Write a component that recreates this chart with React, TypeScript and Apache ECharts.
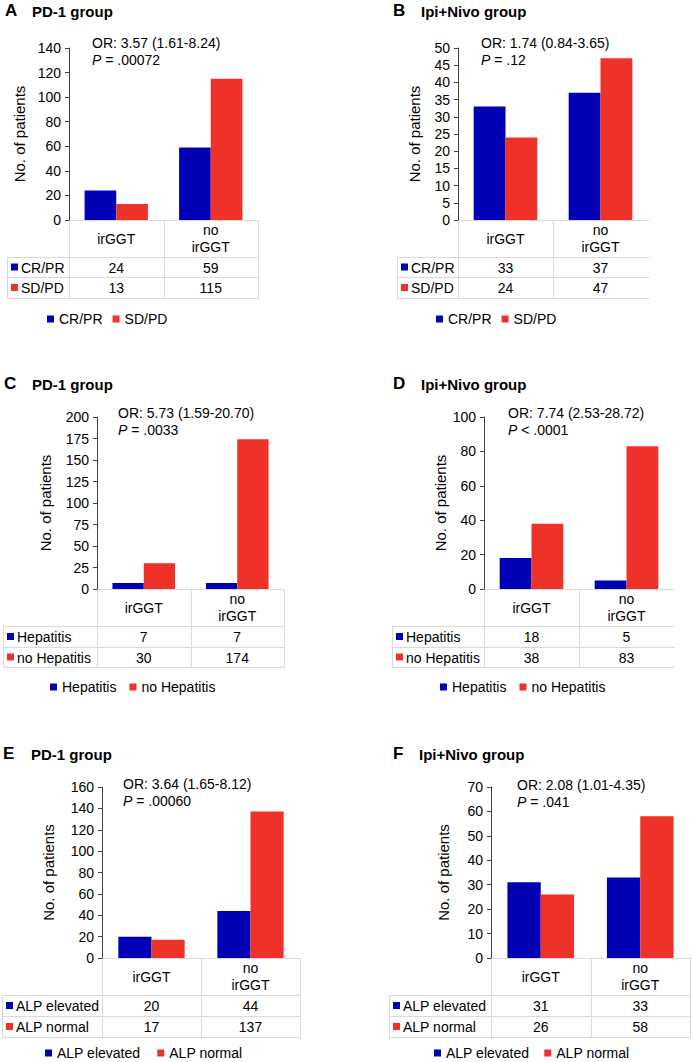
import { useEffect, useRef } from 'react';
import * as echarts from 'echarts';

const FONT = '"Liberation Sans", Arial, Helvetica, sans-serif';
const BLUE = '#0000B4';
const RED = '#EE3229';
const GRID_GRAY = '#D9D9D9';
const AXIS_COLOR = '#404040';
const FS = 14;

const categories = ['irGGT', 'no\nirGGT'];

const panelLetters = ['A', 'B', 'C', 'D', 'E', 'F'];
const panelTitles = ['PD-1 group', 'Ipi+Nivo group', 'PD-1 group', 'Ipi+Nivo group', 'PD-1 group', 'Ipi+Nivo group'];

const responseNames = ['CR/PR', 'SD/PD'];
const hepatitisNames = ['Hepatitis', 'no Hepatitis'];
const alpNames = ['ALP elevated', 'ALP normal'];

const aCrPr = [24, 59];
const aSdPd = [13, 115];
const bCrPr = [33, 37];
const bSdPd = [24, 47];
const cHepatitis = [7, 7];
const cNoHepatitis = [30, 174];
const dHepatitis = [18, 5];
const dNoHepatitis = [38, 83];
const eAlpElevated = [20, 44];
const eAlpNormal = [17, 137];
const fAlpElevated = [31, 33];
const fAlpNormal = [26, 58];

const orTexts = [
  'OR: 3.57 (1.61-8.24)',
  'OR: 1.74 (0.84-3.65)',
  'OR: 5.73 (1.59-20.70)',
  'OR: 7.74 (2.53-28.72)',
  'OR: 3.64 (1.65-8.12)',
  'OR: 2.08 (1.01-4.35)',
];
const pTexts = ['= .00072', '= .12', '= .0033', '< .0001', '= .00060', '= .041'];

const yMaxes = [140, 50, 200, 100, 160, 70];
const yIntervals = [20, 5, 25, 20, 20, 10];
const yAxisTitle = 'No. of patients';

const seriesNames = [responseNames, responseNames, hepatitisNames, hepatitisNames, alpNames, alpNames];
const firstValues = [aCrPr, bCrPr, cHepatitis, dHepatitis, eAlpElevated, fAlpElevated];
const secondValues = [aSdPd, bSdPd, cNoHepatitis, dNoHepatitis, eAlpNormal, fAlpNormal];

// layout (pixel positions only)
const layouts = [
  { ax: 69, right: 258, top: 48, bottom: 220, rows: [257, 277, 298], tableLeft: 7, legendX: 47, legendY: 320, legendGap: 10, nameGap: 42, orX: 92, orY: 43, letterX: 5, titleX: 32, titleY: 10, rightBorder: true },
  { ax: 458, right: 648, top: 48, bottom: 220, rows: [257, 277, 298], tableLeft: 397, legendX: 436, legendY: 320, legendGap: 10, nameGap: 36, orX: 481, orY: 43, letterX: 393, titleX: 421, titleY: 10, rightBorder: false },
  { ax: 97, right: 284, top: 417, bottom: 589, rows: [626, 647, 667], tableLeft: 3, legendX: 50, legendY: 688, legendGap: 13, nameGap: 44, orX: 118, orY: 413, letterX: 4, titleX: 32, titleY: 383, rightBorder: true },
  { ax: 484, right: 674, top: 417, bottom: 589, rows: [626, 647, 667], tableLeft: 392, legendX: 440, legendY: 688, legendGap: 13, nameGap: 36, orX: 508, orY: 413, letterX: 393, titleX: 421, titleY: 383, rightBorder: false },
  { ax: 102, right: 300, top: 787, bottom: 958, rows: [995, 1016, 1037], tableLeft: 2, legendX: 45, legendY: 1054, legendGap: 17, nameGap: 46, orX: 123, orY: 784, letterX: 3, titleX: 31, titleY: 753, rightBorder: true },
  { ax: 491, right: 690, top: 787, bottom: 958, rows: [995, 1016, 1037], tableLeft: 389, legendX: 434, legendY: 1054, legendGap: 15, nameGap: 40, orX: 517, orY: 785, letterX: 393, titleX: 419, titleY: 753, rightBorder: true },
];

function hLine(x1: number, x2: number, y: number) {
  return { type: 'line', silent: true, shape: { x1, y1: y + 0.5, x2, y2: y + 0.5 }, style: { stroke: GRID_GRAY, lineWidth: 1 } };
}
function vLine(x: number, y1: number, y2: number) {
  return { type: 'line', silent: true, shape: { x1: x + 0.5, y1, x2: x + 0.5, y2 }, style: { stroke: GRID_GRAY, lineWidth: 1 } };
}
function txt(x: number, y: number, text: string, extra: any = {}) {
  return {
    type: 'text',
    silent: true,
    x,
    y,
    style: { text, fill: '#000', fontSize: FS, fontFamily: FONT, align: 'left', verticalAlign: 'middle', ...extra },
  };
}

function buildOption() {
  const grid: any[] = [];
  const xAxis: any[] = [];
  const yAxis: any[] = [];
  const series: any[] = [];
  const legend: any[] = [];
  const graphic: any[] = [];

  layouts.forEach((L, i) => {
    grid.push({ left: L.ax, top: L.top, width: L.right - L.ax, height: L.bottom - L.top, outerBoundsMode: 'none', containLabel: false });
    const headerH = L.rows[0] - L.bottom;
    xAxis.push({
      type: 'category',
      gridIndex: i,
      data: categories,
      axisLine: { show: false },
      axisTick: { show: false },
      axisLabel: { margin: headerH / 2, verticalAlign: 'middle', lineHeight: 17, fontSize: FS, fontFamily: FONT, color: '#000', interval: 0 },
    });
    yAxis.push({
      type: 'value',
      gridIndex: i,
      min: 0,
      max: yMaxes[i],
      interval: yIntervals[i],
      name: yAxisTitle,
      nameLocation: 'middle',
      nameRotate: 90,
      nameGap: L.nameGap,
      nameTextStyle: { fontSize: 15, fontFamily: FONT, color: '#000' },
      axisLine: { show: true, lineStyle: { color: AXIS_COLOR, width: 1 } },
      axisTick: { show: true, length: 4, lineStyle: { color: AXIS_COLOR } },
      splitLine: { show: false },
      axisLabel: { margin: 8, fontSize: FS, fontFamily: FONT, color: '#000' },
    });
    const names = seriesNames[i];
    const vals = [firstValues[i], secondValues[i]];
    const colors = [BLUE, RED];
    names.forEach((nm, k) => {
      series.push({
        type: 'bar',
        name: nm,
        xAxisIndex: i,
        yAxisIndex: i,
        data: vals[k],
        barGap: '0%',
        barCategoryGap: '33%',
        itemStyle: { color: colors[k] },
        emphasis: { disabled: true },
      });
    });
    legend.push({
      data: names,
      left: L.legendX,
      top: L.legendY - 8,
      padding: 0,
      orient: 'horizontal',
      icon: 'rect',
      itemWidth: 7,
      itemHeight: 7,
      itemGap: L.legendGap,
      selectedMode: false,
      textStyle: { fontSize: FS, fontFamily: FONT, color: '#000' },
    });

    // titles
    graphic.push(txt(L.letterX, L.titleY, panelLetters[i], { fontSize: 17, fontWeight: 'bold' }));
    graphic.push(txt(L.titleX, L.titleY + 1, panelTitles[i], { fontSize: 15, fontWeight: 'bold' }));
    // OR / P annotation
    graphic.push(txt(L.orX, L.orY, orTexts[i]));
    graphic.push(
      txt(L.orX, L.orY + 17, '{i|P} ' + pTexts[i], {
        rich: { i: { fontStyle: 'italic', fontSize: FS, fontFamily: FONT, fill: '#000' } },
      })
    );

    // data table
    const [r1, r2, r3] = L.rows;
    graphic.push(hLine(L.ax, L.right + 1, L.bottom));
    graphic.push(hLine(L.tableLeft, L.right + 1, r1));
    graphic.push(hLine(L.tableLeft, L.right + 1, r2));
    graphic.push(hLine(L.tableLeft, L.right + 1, r3));
    graphic.push(vLine(L.tableLeft, r1, r3 + 1));
    graphic.push(vLine(L.ax, L.bottom, r3 + 1));
    const colW = (L.right - L.ax) / categories.length;
    for (let c = 1; c < categories.length; c++) {
      graphic.push(vLine(Math.round(L.ax + colW * c), L.bottom, r3 + 1));
    }
    if (L.rightBorder) graphic.push(vLine(L.right, L.bottom, r3 + 1));

    const rowBounds = [[r1, r2], [r2, r3]];
    rowBounds.forEach(([ya, yb], k) => {
      const cy = (ya + yb) / 2;
      graphic.push({
        type: 'rect',
        silent: true,
        shape: { x: L.tableLeft + 4, y: cy - 3.5, width: 7, height: 7 },
        style: { fill: colors[k] },
      });
      graphic.push(txt(L.tableLeft + 14, cy + 0.5, names[k]));
      vals[k].forEach((v, c) => {
        graphic.push(txt(L.ax + colW * (c + 0.5), cy + 0.5, String(v), { align: 'center' }));
      });
    });
  });

  return {
    animation: false,
    backgroundColor: '#fff',
    textStyle: { fontFamily: FONT },
    grid,
    xAxis,
    yAxis,
    series,
    legend,
    graphic,
  };
}

export default function App() {
  const ref = useRef<HTMLDivElement>(null);
  useEffect(() => {
    if (!ref.current) return;
    const chart = echarts.init(ref.current, null, { renderer: 'svg' });
    chart.setOption(buildOption() as any);
    return () => chart.dispose();
  }, []);
  return (
    <div
      ref={ref}
      style={{ position: 'fixed', left: 0, top: 0, width: 692, height: 1062, background: '#fff' }}
    />
  );
}
